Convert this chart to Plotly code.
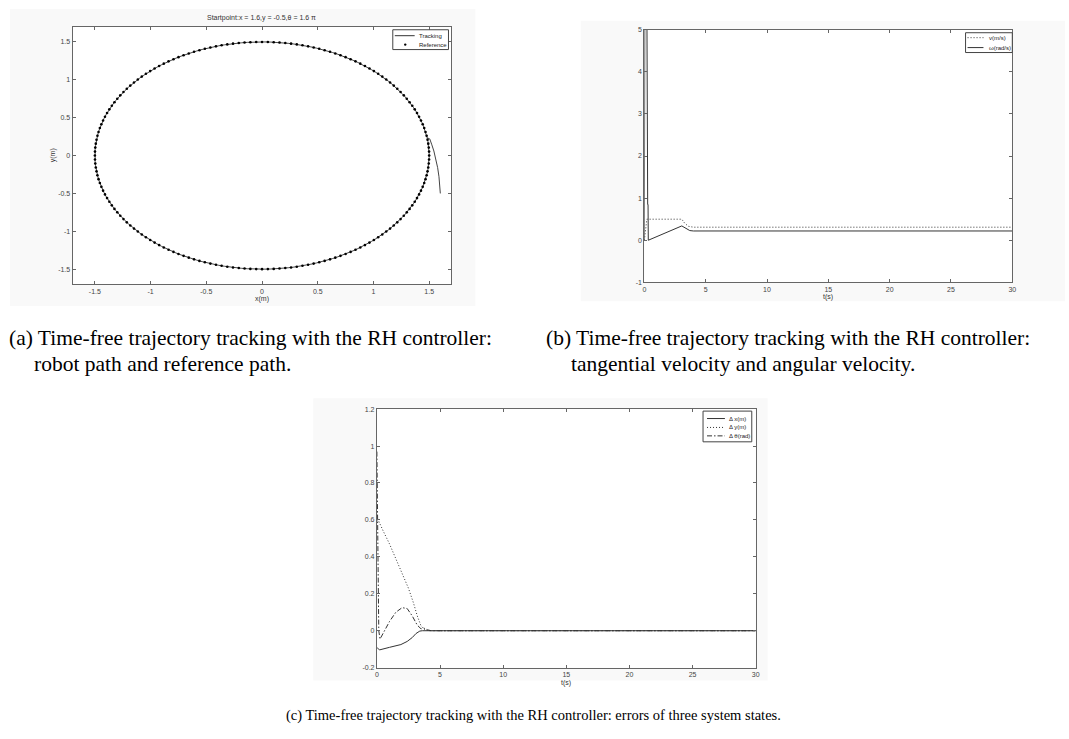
import numpy as np
import plotly.graph_objects as go

W, H = 1069, 739

# ---------------- (a) robot path vs. reference path ----------------
REF_RADIUS = 1.5          # reference circle radius [m]
REF_SAMPLES = 180         # number of reference waypoints
ref_angle = np.linspace(0.0, 2.0 * np.pi, REF_SAMPLES, endpoint=False)
ref_x = REF_RADIUS * np.cos(ref_angle)
ref_y = REF_RADIUS * np.sin(ref_angle)

# transient from the start point (1.6, -0.5) onto the circle
approach_x = [1.600, 1.596, 1.588, 1.576, 1.560, 1.542, 1.522, 1.505]
approach_y = [-0.50, -0.40, -0.28, -0.16, -0.05, 0.06, 0.15, 0.22]
# after joining, the robot stays on the reference circle
follow_angle = np.deg2rad(np.arange(9.0, 370.0, 2.0))
track_x = approach_x + list(REF_RADIUS * np.cos(follow_angle))
track_y = approach_y + list(REF_RADIUS * np.sin(follow_angle))

a_ticks = [-1.5, -1.0, -0.5, 0.0, 0.5, 1.0, 1.5]
a_ticktext = ["-1.5", "-1", "-0.5", "0", "0.5", "1", "1.5"]

# ---------------- (b) tangential and angular velocity ----------------
v_t = [0.0, 0.2, 3.05, 3.3, 3.6, 4.0, 30.0]
v_val = [0.0, 0.5, 0.5, 0.40, 0.33, 0.31, 0.31]
w_t = [0.0, 0.04, 0.20, 0.22, 0.25, 0.27, 0.30, 0.32, 3.05, 3.4, 3.7, 4.0, 30.0]
w_val = [0.0, 6.0, 6.0, 2.55, 2.55, 0.85, 0.85, 0.0, 0.34, 0.27, 0.23, 0.22, 0.22]
b_xticks = [0, 5, 10, 15, 20, 25, 30]
b_yticks = [-1, 0, 1, 2, 3, 4, 5]

# ---------------- (c) errors of the three states ----------------
ex_t = [0.0, 0.2, 1.0, 1.9, 2.4, 2.8, 3.1, 3.4, 3.6, 30.0]
ex_val = [-0.09, -0.104, -0.09, -0.075, -0.058, -0.037, -0.015, -0.002, 0.0, 0.0]
ey_t = [0.0, 0.1, 0.5, 1.0, 1.5, 2.0, 2.5, 2.9, 3.2, 3.5, 3.8, 4.2, 4.8, 30.0]
ey_val = [0.60, 0.60, 0.54, 0.47, 0.39, 0.31, 0.23, 0.15, 0.08, 0.025, 0.005, 0.0, 0.0, 0.0]
eth_t = [0.0, 0.05, 0.15, 0.25, 0.6, 1.0, 1.5, 2.0, 2.4, 2.8, 3.2, 3.5, 3.7, 4.0, 4.3, 4.8, 30.0]
eth_val = [0.97, 0.5, 0.0, -0.045, 0.0, 0.05, 0.10, 0.125, 0.12, 0.08, 0.03, 0.01, 0.015, 0.005, 0.0, 0.0, 0.0]
c_xticks = [0, 5, 10, 15, 20, 25, 30]
c_yticks = [-0.2, 0, 0.2, 0.4, 0.6, 0.8, 1.0, 1.2]
c_yticktext = ["-0.2", "0", "0.2", "0.4", "0.6", "0.8", "1", "1.2"]

LINE = "#333333"
AXIS = "#666666"
DOTTED = "1px,2px"
DASHDOT = "5px,2px,1.5px,2px"
SANS = "Liberation Sans, Arial, sans-serif"
TICKFONT = dict(family=SANS, size=7, color="#444444")


def px_x(x):
    return x / W


def px_y(y):
    return 1.0 - y / H


fig = go.Figure()

# (a)
fig.add_trace(go.Scatter(x=track_x, y=track_y, mode="lines", name="Tracking",
                         line=dict(color="#444444", width=1), xaxis="x", yaxis="y"))
fig.add_trace(go.Scatter(x=ref_x, y=ref_y, mode="markers", name="Reference",
                         marker=dict(color="black", size=2.6), xaxis="x", yaxis="y"))
# (b)
fig.add_trace(go.Scatter(x=v_t, y=v_val, mode="lines", name="v(m/s)",
                         line=dict(color=LINE, width=1, dash=DOTTED), xaxis="x2", yaxis="y2"))
fig.add_trace(go.Scatter(x=w_t, y=w_val, mode="lines", name="\u03c9(rad/s)",
                         line=dict(color=LINE, width=1), xaxis="x2", yaxis="y2"))
# (c)
fig.add_trace(go.Scatter(x=ex_t, y=ex_val, mode="lines", name="\u0394 x(m)",
                         line=dict(color=LINE, width=1), xaxis="x3", yaxis="y3"))
fig.add_trace(go.Scatter(x=ey_t, y=ey_val, mode="lines", name="\u0394 y(m)",
                         line=dict(color=LINE, width=1, dash=DOTTED), xaxis="x3", yaxis="y3"))
fig.add_trace(go.Scatter(x=eth_t, y=eth_val, mode="lines", name="\u0394 \u03b8(rad)",
                         line=dict(color=LINE, width=1, dash=DASHDOT), xaxis="x3", yaxis="y3"))

axis_style = dict(showline=True, linecolor=AXIS, linewidth=1, mirror="ticks",
                  ticks="inside", ticklen=3, tickcolor=AXIS, showgrid=False,
                  zeroline=False, tickfont=TICKFONT, fixedrange=True)

# axes rectangles in pixels: (left, top, right, bottom)
box_a = (71, 23, 452, 283)
box_b = (646, 26, 1016, 281)
box_c = (377, 409, 758, 670)


def dom(box):
    l, t, r, b = box
    return [px_x(l), px_x(r)], [px_y(b), px_y(t)]


da_x, da_y = dom(box_a)
db_x, db_y = dom(box_b)
dc_x, dc_y = dom(box_c)

fig.update_layout(
    width=W, height=H, margin=dict(l=0, r=0, t=0, b=0),
    paper_bgcolor="white", plot_bgcolor="white", showlegend=False,
    xaxis=dict(domain=da_x, range=[-1.7, 1.7], tickvals=a_ticks, ticktext=a_ticktext,
               anchor="y", **axis_style),
    yaxis=dict(domain=da_y, range=[-1.7, 1.7], tickvals=a_ticks, ticktext=a_ticktext,
               anchor="x", **axis_style),
    xaxis2=dict(domain=db_x, range=[0, 30], tickvals=b_xticks, anchor="y2", **axis_style),
    yaxis2=dict(domain=db_y, range=[-1, 5], tickvals=b_yticks,
                ticktext=[str(v) for v in b_yticks], anchor="x2", **axis_style),
    xaxis3=dict(domain=dc_x, range=[0, 30], tickvals=c_xticks, anchor="y3", **axis_style),
    yaxis3=dict(domain=dc_y, range=[-0.2, 1.2], tickvals=c_yticks, ticktext=c_yticktext,
                anchor="x3", **axis_style),
)


def rect(l, t, r, b, fill, line_color=None):
    fig.add_shape(type="rect", xref="paper", yref="paper",
                  x0=px_x(l), x1=px_x(r), y0=px_y(b), y1=px_y(t), fillcolor=fill,
                  line=dict(width=1 if line_color else 0, color=line_color or fill),
                  layer="below")


# light figure backgrounds behind each panel, white axes areas on top
for (l, t, r, b) in [(8, 5, 476, 305), (582, 17, 1069, 300), (313, 398, 770, 683)]:
    rect(l, t, r, b, "#f9f9f9")
for (l, t, r, b) in [box_a, box_b, box_c]:
    rect(l, t, r, b, "white")


def note(x, y, text, font, xanchor="center", angle=0):
    fig.add_annotation(x=px_x(x), y=px_y(y), xref="paper", yref="paper", text=text,
                       showarrow=False, font=font, xanchor=xanchor, yanchor="middle",
                       textangle=angle)


# ---- compact legends (box, sample, label) ----
LEG_FONT = dict(family=SANS, size=6, color="#222222")


def legend_box(l, t, r, b):
    fig.add_shape(type="rect", xref="paper", yref="paper",
                  x0=px_x(l), x1=px_x(r), y0=px_y(b), y1=px_y(t),
                  fillcolor="white", line=dict(color="#444444", width=1), layer="above")


def legend_line(x0, x1, y, dash):
    fig.add_shape(type="line", xref="paper", yref="paper",
                  x0=px_x(x0), x1=px_x(x1), y0=px_y(y), y1=px_y(y),
                  line=dict(color=LINE, width=1, dash=dash), layer="above")


def legend_dot(x, y):
    fig.add_shape(type="circle", xref="paper", yref="paper",
                  x0=px_x(x - 1.2), x1=px_x(x + 1.2), y0=px_y(y + 1.2), y1=px_y(y - 1.2),
                  fillcolor="black", line=dict(width=0), layer="above")


legend_box(393, 26, 449, 46)
legend_line(395, 415, 32, "solid")
note(417, 32, "Tracking", LEG_FONT, xanchor="left")
legend_dot(405.5, 41)
note(417, 41, "Reference", LEG_FONT, xanchor="left")

legend_box(969, 29, 1016, 49)
legend_line(971, 987, 34, DOTTED)
note(991, 34, "v(m/s)", LEG_FONT, xanchor="left")
legend_line(971, 987, 44, "solid")
note(991, 44, "\u03c9(rad/s)", LEG_FONT, xanchor="left")

legend_box(705, 411, 754, 442)
legend_line(709, 727, 418.5, "solid")
note(729, 418.5, "\u0394 x(m)", LEG_FONT, xanchor="left")
legend_line(709, 727, 427.5, DOTTED)
note(729, 427.5, "\u0394 y(m)", LEG_FONT, xanchor="left")
legend_line(709, 727, 436, DASHDOT)
note(729, 436, "\u0394 \u03b8(rad)", LEG_FONT, xanchor="left")

small = dict(family=SANS, size=7, color="#333333")
serif = dict(family="Liberation Serif, Times New Roman, serif", size=21.5, color="black")
serif_c = dict(serif, size=14.5)

note(261, 14, "Startpoint:x = 1.6,y = -0.5,\u03b8 = 1.6 \u03c0", small)
note(261, 298, "x(m)", small)
note(51, 153, "y(m)", small, angle=-90)
note(831, 296, "t(s)", small)
note(567, 685, "t(s)", small)

note(5, 337, "(a) Time-free trajectory tracking with the RH controller:", serif, xanchor="left")
note(30, 363, "robot path and reference path.", serif, xanchor="left")
note(545, 337, "(b) Time-free trajectory tracking with the RH controller:", serif, xanchor="left")
note(570, 363, "tangential velocity and angular velocity.", serif, xanchor="left")
note(535, 718, "(c) Time-free trajectory tracking with the RH controller: errors of three system states.",
     serif_c)

fig.write_html("out.html")
